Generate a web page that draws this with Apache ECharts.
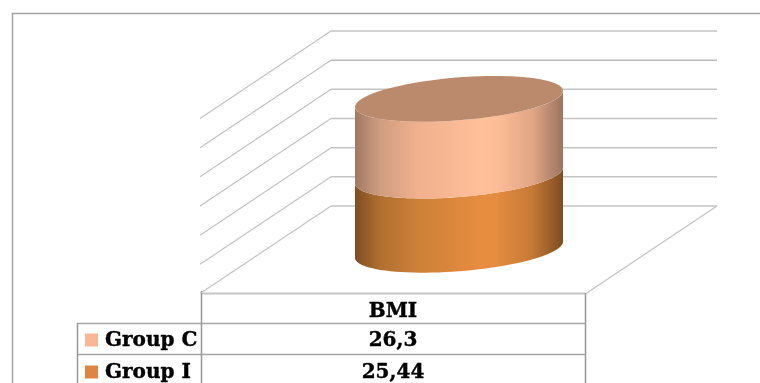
<!DOCTYPE html>
<html>
<head>
<meta charset="utf-8">
<style>html,body{margin:0;padding:0;background:#fff}#chart{width:760px;height:383px}</style>
<script src="https://cdn.jsdelivr.net/npm/echarts@6/dist/echarts.min.js"></script>
</head>
<body>
<div id="chart"></div>
<script>
// BMI by group, as a stacked cylinder with its data table underneath.
const categories = ['BMI'];
const groupNames = ['Group I', 'Group C'];
const groupI = [25.44];
const groupC = [26.3];
const tickValues = [0, 10, 20, 30, 40, 50, 60];
const decimalComma = v => String(v).replace('.', ',');

// Oblique projection: offset from the back wall to the front of the floor.
const depthX = -131, depthY = 87.5;
const cylA = 104, cylB = 21.5, cylShear = 8;

const sideShades = {
  'Group I': ['#7f4d22', '#b06f30', '#cd8038', '#e68d40', '#e48c3f', '#c67a36', '#7f4c20'],
  'Group C': ['#a07a62', '#cf9d80', '#f1b08e', '#ffbf98', '#fdbd97', '#e2a685', '#9c7460']
};
const capColor = '#bb8a6c';
const swatchColors = { 'Group I': '#dc8544', 'Group C': '#fab794' };

function ellipsePts(cx, cy, from, to) {
  const pts = [];
  const n = 48;
  for (let i = 0; i <= n; i++) {
    const t = from + (to - from) * i / n;
    pts.push([cx + cylA * Math.cos(t), cy + cylB * Math.sin(t) - cylShear * Math.cos(t)]);
  }
  return pts;
}
function sideGradient(name) {
  const c = sideShades[name];
  return {
    type: 'linear', x: 0, y: 0, x2: 1, y2: 0,
    colorStops: c.map((color, i) => ({ offset: [0, 0.12, 0.3, 0.6, 0.68, 0.85, 1][i], color }))
  };
}

// Floor outline and the gridlines that run along the side wall and back wall.
function renderWalls(params, api) {
  const v = api.value(0);
  const back = api.coord(['BMI', v]);
  const size = api.size(['BMI', 0]);
  const left = back[0] - size[0] / 2, right = back[0] + size[0] / 2;
  const sideStyle = { stroke: '#c4c4c4', lineWidth: 1.3, fill: null };
  const children = [
    { type: 'line', shape: { x1: left + depthX, y1: back[1] + depthY, x2: left, y2: back[1] }, style: sideStyle },
    {
      type: 'line', shape: { x1: left, y1: back[1], x2: right, y2: back[1] },
      style: { stroke: v === 50 ? '#969696' : '#c4c4c4', lineWidth: v === 50 ? 1 : 1.5, fill: null }
    }
  ];
  if (v === 0) {
    children.push({
      type: 'line', shape: { x1: right, y1: back[1], x2: right + depthX, y2: back[1] + depthY }, style: sideStyle
    });
  }
  return { type: 'group', children };
}

// One stacked slab: body between two ellipses; the topmost slab also gets a cap.
function renderSlab(name, isTop) {
  return function (params, api) {
    const base = api.value(1), top = base + api.value(2);
    const p0 = api.coord(['BMI', base]), p1 = api.coord(['BMI', top]);
    const cx = p0[0] + depthX / 2 + 0.5;
    const y0 = p0[1] + depthY / 2, y1 = p1[1] + depthY / 2;
    const body = ellipsePts(cx, y0, Math.PI, 0).concat(ellipsePts(cx, y1, 0, Math.PI));
    const children = [{
      type: 'polygon', shape: { points: body },
      style: { fill: sideGradient(name) }
    }];
    if (isTop) {
      children.push({
        type: 'polygon', shape: { points: ellipsePts(cx, y1, 0, Math.PI * 2) },
        style: { fill: capColor }
      });
    }
    return { type: 'group', children };
  };
}

// Data table and outer frame drawn around the plot.
const tableFont = 'bold 20px "DejaVu Serif", serif';
const lineGrey = '#a6a6a6';
function hLine(x1, x2, y) {
  return { type: 'line', shape: { x1, y1: y, x2, y2: y }, style: { stroke: lineGrey, lineWidth: 1.5 } };
}
function vLine(x, y1, y2) {
  return { type: 'line', shape: { x1: x, y1, x2: x, y2 }, style: { stroke: '#979797', lineWidth: 1.5 } };
}
function centred(text, y) {
  return { type: 'text', x: 393, y, style: { text, font: tableFont, fill: '#000', stroke: '#000', lineWidth: 0.4, align: 'center', verticalAlign: 'middle' } };
}
function rowHead(name, y) {
  return [
    { type: 'rect', shape: { x: 85, y: y - 6.5, width: 13, height: 13 }, style: { fill: swatchColors[name] } },
    { type: 'text', x: 105, y: y + 1, style: { text: name, font: tableFont, fill: '#000', stroke: '#000', lineWidth: 0.4, align: 'left', verticalAlign: 'middle' } }
  ];
}
const tableElements = [
  { type: 'polyline', shape: { points: [[12.5, 383], [12.5, 13.5], [760, 13.5]] }, style: { stroke: '#a3a3a3', lineWidth: 1.5, fill: null } },
  { type: 'line', shape: { x1: 201, y1: 293.5, x2: 585, y2: 293.5 }, style: { stroke: '#c6c6c6', lineWidth: 2 } },
  hLine(77, 585, 323.5), hLine(77, 585, 354.5),
  vLine(77.5, 323, 383), vLine(201.5, 291, 383), vLine(585.5, 293, 383),
  centred(categories[0], 312),
  centred(decimalComma(groupC[0]), 341),
  centred(decimalComma(groupI[0]), 373),
  ...rowHead('Group C', 340),
  ...rowHead('Group I', 372)
];

const chart = echarts.init(document.getElementById('chart'), null, { renderer: 'canvas' });
chart.setOption({
  animation: false,
  backgroundColor: '#ffffff',
  grid: { left: 331, top: 31, width: 386, height: 175 },
  xAxis: { type: 'category', data: categories, show: false },
  yAxis: { type: 'value', min: 0, max: 60, interval: 10, show: false },
  series: [
    {
      type: 'custom', name: 'walls', silent: true, z: 1,
      coordinateSystem: 'cartesian2d',
      encode: { x: 1, y: 0 },
      data: tickValues.map(v => [v, 'BMI']),
      renderItem: renderWalls
    },
    {
      type: 'custom', name: groupNames[0], z: 2,
      encode: { x: 0, y: 2 },
      data: [[categories[0], 0, groupI[0]]],
      renderItem: renderSlab('Group I', false)
    },
    {
      type: 'custom', name: groupNames[1], z: 3,
      encode: { x: 0, y: 2 },
      data: [[categories[0], groupI[0], groupC[0]]],
      renderItem: renderSlab('Group C', true)
    }
  ],
  graphic: tableElements
});
</script>
</body>
</html>
